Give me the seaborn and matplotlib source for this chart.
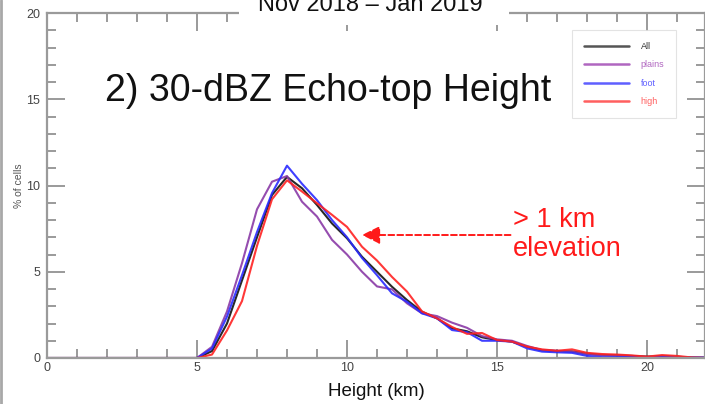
import numpy as np
import pandas as pd
import matplotlib
matplotlib.use("Agg")
import matplotlib.pyplot as plt
from matplotlib.lines import Line2D
from matplotlib.patches import Rectangle
from matplotlib.ticker import MultipleLocator
import seaborn as sns

# Echo-top height bins (km), 0.5 km spacing
height = np.arange(0, 22.01, 0.5)

# Percent of cells per bin, one array per region (bins below 5 km are empty)
pct_all = [0] * 10 + [0.0, 0.4, 2.0, 4.5, 7.0, 9.45, 10.5, 9.84, 8.87, 7.8, 6.94, 5.87,
                      5.0, 4.13, 3.36, 2.68, 2.3, 1.72, 1.55, 1.2, 1.04, 0.95, 0.65,
                      0.45, 0.4, 0.38, 0.25, 0.18, 0.15, 0.12, 0.08, 0.1, 0.07, 0.03, 0.02]
pct_plains = [0] * 10 + [0.0, 0.65, 2.7, 5.5, 8.62, 10.22, 10.55, 9.06, 8.2, 6.85, 6.0, 5.0,
                         4.15, 3.98, 3.17, 2.59, 2.43, 2.05, 1.75, 1.27, 1.08, 1.0, 0.7,
                         0.46, 0.42, 0.37, 0.22, 0.15, 0.14, 0.1, 0.06, 0.08, 0.05, 0.03, 0.02]
pct_foot = [0] * 10 + [0.0, 0.55, 2.4, 4.8, 7.3, 9.56, 11.15, 10.1, 9.15, 8.0, 7.0, 5.8,
                       4.8, 3.75, 3.26, 2.59, 2.3, 1.62, 1.5, 1.0, 1.0, 0.95, 0.56,
                       0.37, 0.33, 0.3, 0.12, 0.05, 0.05, 0.05, 0.03, 0.04, 0.02, 0.02, 0.02]
pct_high = [0] * 10 + [0.0, 0.2, 1.6, 3.3, 6.5, 9.2, 10.3, 9.65, 8.97, 8.3, 7.6, 6.45,
                       5.65, 4.7, 3.85, 2.7, 2.3, 1.8, 1.4, 1.45, 1.04, 0.95, 0.66,
                       0.5, 0.42, 0.5, 0.3, 0.23, 0.2, 0.15, 0.08, 0.17, 0.12, 0.03, 0.0]

regions = ["All", "plains", "foot", "high"]
line_colors = {"All": "#111111", "plains": "#8a3aa6", "foot": "#2a2aff", "high": "#ff2222"}
legend_colors = {"All": "#555555", "plains": "#b066c0", "foot": "#5f5fff", "high": "#ff5f5f"}

df = pd.concat([
    pd.DataFrame({"Height": height, "pct": vals, "region": name})
    for name, vals in zip(regions, [pct_all, pct_plains, pct_foot, pct_high])
], ignore_index=True)

sns.set_theme(style="white")
plt.rcParams["font.family"] = ["Liberation Sans", "DejaVu Sans"]

fig = plt.figure(figsize=(7.05, 4.04), dpi=100)
ax = fig.add_axes([47 / 705, 46 / 404, 1 - 47 / 705, 345 / 404])

sns.lineplot(data=df, x="Height", y="pct", hue="region", hue_order=regions,
             palette=line_colors, legend=False, lw=1.5, alpha=0.9, ax=ax)

ax.set_xlim(0, 658 / 30)
ax.set_ylim(0, 20)

# Axis frame and ticks
spine_col = "#9a9a9a"
for s in ax.spines.values():
    s.set_color(spine_col)
    s.set_linewidth(1.6)
ax.xaxis.set_major_locator(MultipleLocator(5))
ax.xaxis.set_minor_locator(MultipleLocator(1))
ax.yaxis.set_major_locator(MultipleLocator(5))
ax.yaxis.set_minor_locator(MultipleLocator(1))
ax.tick_params(which="both", direction="in", top=True, right=True, bottom=True, left=True,
               color=spine_col, width=1.4, labelsize=9, labelcolor="#444444")
ax.tick_params(which="major", length=13)
ax.tick_params(which="minor", length=6.5)
ax.tick_params(axis="x", which="major", pad=3)
ax.tick_params(axis="y", which="major", pad=5)

ax.set_xlabel("Height (km)", fontsize=13.5, color="#111111", labelpad=6)
ax.set_ylabel("% of cells", fontsize=7.5, color="#555555", labelpad=1.5)

# Panel heading inside the plot
ax.text(1.93, 15.5, "2) 30-dBZ Echo-top Height", fontsize=27, color="#111111",
        ha="left", va="center")

# Annotation for the high-terrain curve
ax.annotate("", xy=(10.5, 7.13), xytext=(15.45, 7.13),
            arrowprops=dict(arrowstyle="-|>,head_length=0.9,head_width=0.45",
                            color="#ff1a1a", lw=1.4, linestyle=(0, (3, 1.6)),
                            shrinkA=0, shrinkB=0))
ax.text(15.53, 7.15, "> 1 km\nelevation", fontsize=19.5, color="#ff1a1a",
        ha="left", va="center", linespacing=1.15)

# Legend with coloured labels
handles = [Line2D([0], [0], color=legend_colors[r], lw=1.8) for r in regions]
leg = ax.legend(handles, regions, loc="upper left",
                bbox_to_anchor=((572 - 47) / 658, (358 - 30) / 345),
                fontsize=6.5, handlelength=5, handletextpad=1.3, labelspacing=1.05,
                borderpad=1.3, borderaxespad=0, frameon=True, fancybox=False)
leg.get_frame().set_edgecolor("#dddddd")
leg.get_frame().set_linewidth(0.8)
for t, r in zip(leg.get_texts(), regions):
    t.set_color(legend_colors[r] if r != "All" else "#333333")

# Period heading sitting on the top frame
fig.patches.append(Rectangle((239 / 705, 379 / 404), 270 / 705, 25 / 404,
                             transform=fig.transFigure, facecolor="white",
                             edgecolor="none", zorder=2))
fig.text(370 / 705, 393 / 404, "Nov 2018 \u2013 Jan 2019", fontsize=17,
         ha="center", va="baseline", color="#111111", zorder=3)

# Thin frame line on the left edge
fig.add_artist(Line2D([0.0015, 0.0015], [0, 1], transform=fig.transFigure,
                      color="#a8a8a8", lw=2))

fig.savefig("out.png", dpi=100)
